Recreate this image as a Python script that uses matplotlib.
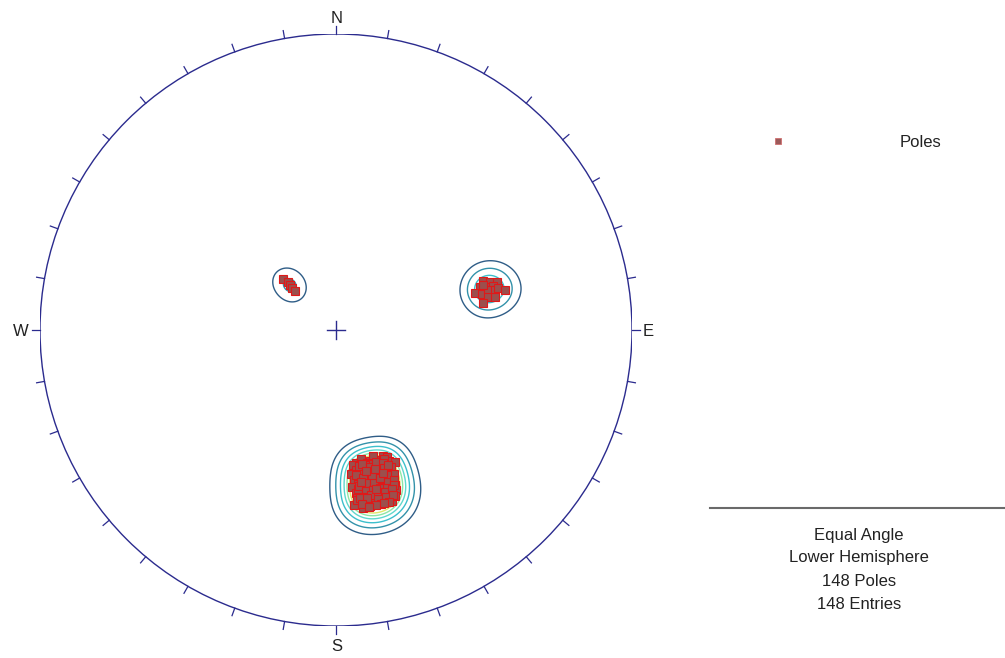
import numpy as np
import matplotlib
matplotlib.use("Agg")
import matplotlib.pyplot as plt
from matplotlib.patches import Circle

plt.rcParams['font.family'] = ['Liberation Sans', 'DejaVu Sans']

# Plane orientations (dip direction / dip, degrees) for the three joint sets
south_dipdir = [351.5, 349, 345.5, 342, 339.5, 349.5, 343.5, 338, 347, 353,
                352, 349.5, 346, 343.5, 341, 338, 348, 344.5, 339.5, 350.5, 354, 342, 336, 347,
                351.5, 349, 345.5, 343, 340.5, 338, 353, 347, 343.5, 349.5, 339, 341, 345.5, 351.5,
                352, 349.5, 347, 344.5, 342, 339.5, 354, 348, 345.5, 343, 340.5, 350.5, 338, 353,
                351.5, 349, 346, 343.5, 341, 339, 353, 350.5, 348, 344.5, 342, 339.5, 347, 345.5,
                352, 349.5, 347, 344.5, 342, 354, 351.5, 349, 346, 343.5, 340.5, 350.5, 348,
                349, 346, 343, 340.5, 352, 348, 344.5, 341, 339, 349.5, 346, 343, 340.5, 352,
                349, 346, 343.5, 341, 339, 351.5, 349.5, 347, 344.5, 342, 339.5, 353, 350.5, 348,
                345.5, 343, 340.5, 352, 349.5, 346, 343.5, 341, 349, 345.5, 343, 351.5, 347, 344.5,
                349.5, 350.5, 342, 348, 344.5, 346]
south_dip = [49, 48, 49, 49.5, 49, 49.5, 48, 49.5, 49.5, 49.5,
             51, 52, 50, 51, 52, 51, 50, 52.5, 50, 50, 52, 52.5, 52, 52,
             53, 54, 53, 54, 53, 53, 54, 52.5, 52.5, 52.5, 55, 55, 55, 55,
             55.5, 56, 55.5, 56, 55.5, 56, 56, 57, 57, 57, 58, 58, 55.5, 58,
             58.5, 58.5, 59.5, 58.5, 59.5, 58.5, 59.5, 60, 60, 60, 61, 60, 58.5, 61,
             61, 61.5, 61.5, 61.5, 62.5, 61.5, 62.5, 62.5, 62.5, 62.5, 61.5, 61, 61,
             49.5, 51, 50, 51, 52.5, 53, 54, 52.5, 52, 54, 54, 55.5, 55, 57,
             55.5, 56, 55, 57, 57, 56, 58, 58, 58, 58.5, 58.5, 60, 59.5, 59.5,
             59.5, 59.5, 59.5, 59.5, 60, 61, 61, 61, 62.5, 62.5, 62.5, 61.5, 62.5, 62.5,
             62.5, 55, 54, 52, 52, 58]

east_dipdir = [251.5, 252.7, 253.4, 253.4, 254.0, 254.3, 255.0, 256.0,
               255.3, 256.0, 255.4, 256.7, 257.8, 258.3, 259.6, 253.0]
east_dip = [55.3, 57.2, 59.2, 53.8, 55.8, 57.7, 51.8, 54.0,
            55.9, 58.0, 59.0, 60.8, 55.5, 57.6, 53.6, 55.0]

west_dipdir = [133.9, 135.0, 134.4, 133.6, 133.5]
west_dip = [27.9, 25.8, 24.5, 23.2, 21.6]

info_lines = ["Equal Angle", "Lower Hemisphere", "148 Poles", "148 Entries"]

W, H = 1005, 658
fig = plt.figure(figsize=(W / 100, H / 100), dpi=100)
fig.patch.set_facecolor('white')


def fpos(x, y):
    return x / W, 1 - y / H


# Net occupies a 592 px square centred at (336, 330)
ax = fig.add_axes([40 / W, 32 / H, 592 / W, 592 / H])
ax.set_xlim(-1, 1)
ax.set_ylim(-1, 1)
ax.axis('off')

dipdir = np.array(south_dipdir + east_dipdir + west_dipdir, dtype=float)
dip = np.array(south_dip + east_dip + west_dip, dtype=float)

# Poles: trend opposite to dip direction, plunge = 90 - dip
trend = np.radians((dipdir + 180.0) % 360.0)
plunge = np.radians(90.0 - dip)

# Equal-angle (stereographic) projection
r = np.tan((np.pi / 2 - plunge) / 2)
px = r * np.sin(trend)
py = r * np.cos(trend)

# Pole unit vectors (east, north, down)
pv = np.stack([np.cos(plunge) * np.sin(trend),
               np.cos(plunge) * np.cos(trend),
               np.sin(plunge)], axis=1)

# Density grid on the projection plane
n = 500
gx, gy = np.meshgrid(np.linspace(-1, 1, n), np.linspace(-1, 1, n))
gr = np.hypot(gx, gy)
phi = 2 * np.arctan(gr)
gt = np.arctan2(gx, gy)
gv = np.stack([np.sin(phi) * np.sin(gt), np.sin(phi) * np.cos(gt), np.cos(phi)], axis=-1)
cosang = np.abs(gv.reshape(-1, 3) @ pv.T)
kappa = 260.0
dens = np.exp(kappa * (cosang - 1.0)).sum(axis=1).reshape(n, n)
dens = np.ma.masked_where(gr > 1.0, dens)

levels = [1.2, 3.5, 7.0, 11.0, 15.0, 19.0]
colors = ['#2f5d87', '#3392aa', '#3cbfcc', '#5fd8cc', '#8fe6a4', '#dfe66c']
ax.contour(gx, gy, dens, levels=levels, colors=colors, linewidths=1.0, zorder=2)

# Primitive circle, azimuth ticks and centre cross
navy = '#2b2b8e'
ax.add_patch(Circle((0, 0), 1.0, fill=False, edgecolor=navy, lw=1.0, zorder=3))
tick_len = 8 / 296
for az in range(0, 360, 10):
    a = np.radians(az)
    ax.plot([np.sin(a), (1 + tick_len) * np.sin(a)],
            [np.cos(a), (1 + tick_len) * np.cos(a)],
            color=navy, lw=0.9, clip_on=False, zorder=3)
c = 9 / 296
ax.plot([-c, c], [0, 0], color=navy, lw=1.0, zorder=3)
ax.plot([0, 0], [-c, c], color=navy, lw=1.0, zorder=3)

ax.plot(px, py, 's', ms=5.8, mfc='#9c4f4c', mec='#e01818', mew=0.8, zorder=4,
        clip_on=False)

# Compass letters
for label, (x, y) in {'N': (336.5, 23), 'S': (336.5, 651),
                      'W': (21, 336), 'E': (648, 336)}.items():
    fig.text(*fpos(x, y), label, ha='center', va='baseline', fontsize=12, color='#222222')

# Legend
fig.add_artist(plt.Line2D([778 / W], [1 - 141 / H], marker='s', ms=4.5,
                          mfc='#9c5a5a', mec='#d07070', mew=0.6, ls='none'))
fig.text(*fpos(920, 147), "Poles", ha='center', va='baseline', fontsize=12, color='#222222')

fig.add_artist(plt.Line2D([710 / W, 1.0], [1 - 508 / H, 1 - 508 / H],
                          color='#6a6a6a', lw=1.5))
for text, yb in zip(info_lines, [540, 562, 586, 609]):
    fig.text(*fpos(859, yb), text, ha='center', va='baseline', fontsize=12, color='#222222')

fig.savefig('out.png', dpi=100, facecolor='white')
